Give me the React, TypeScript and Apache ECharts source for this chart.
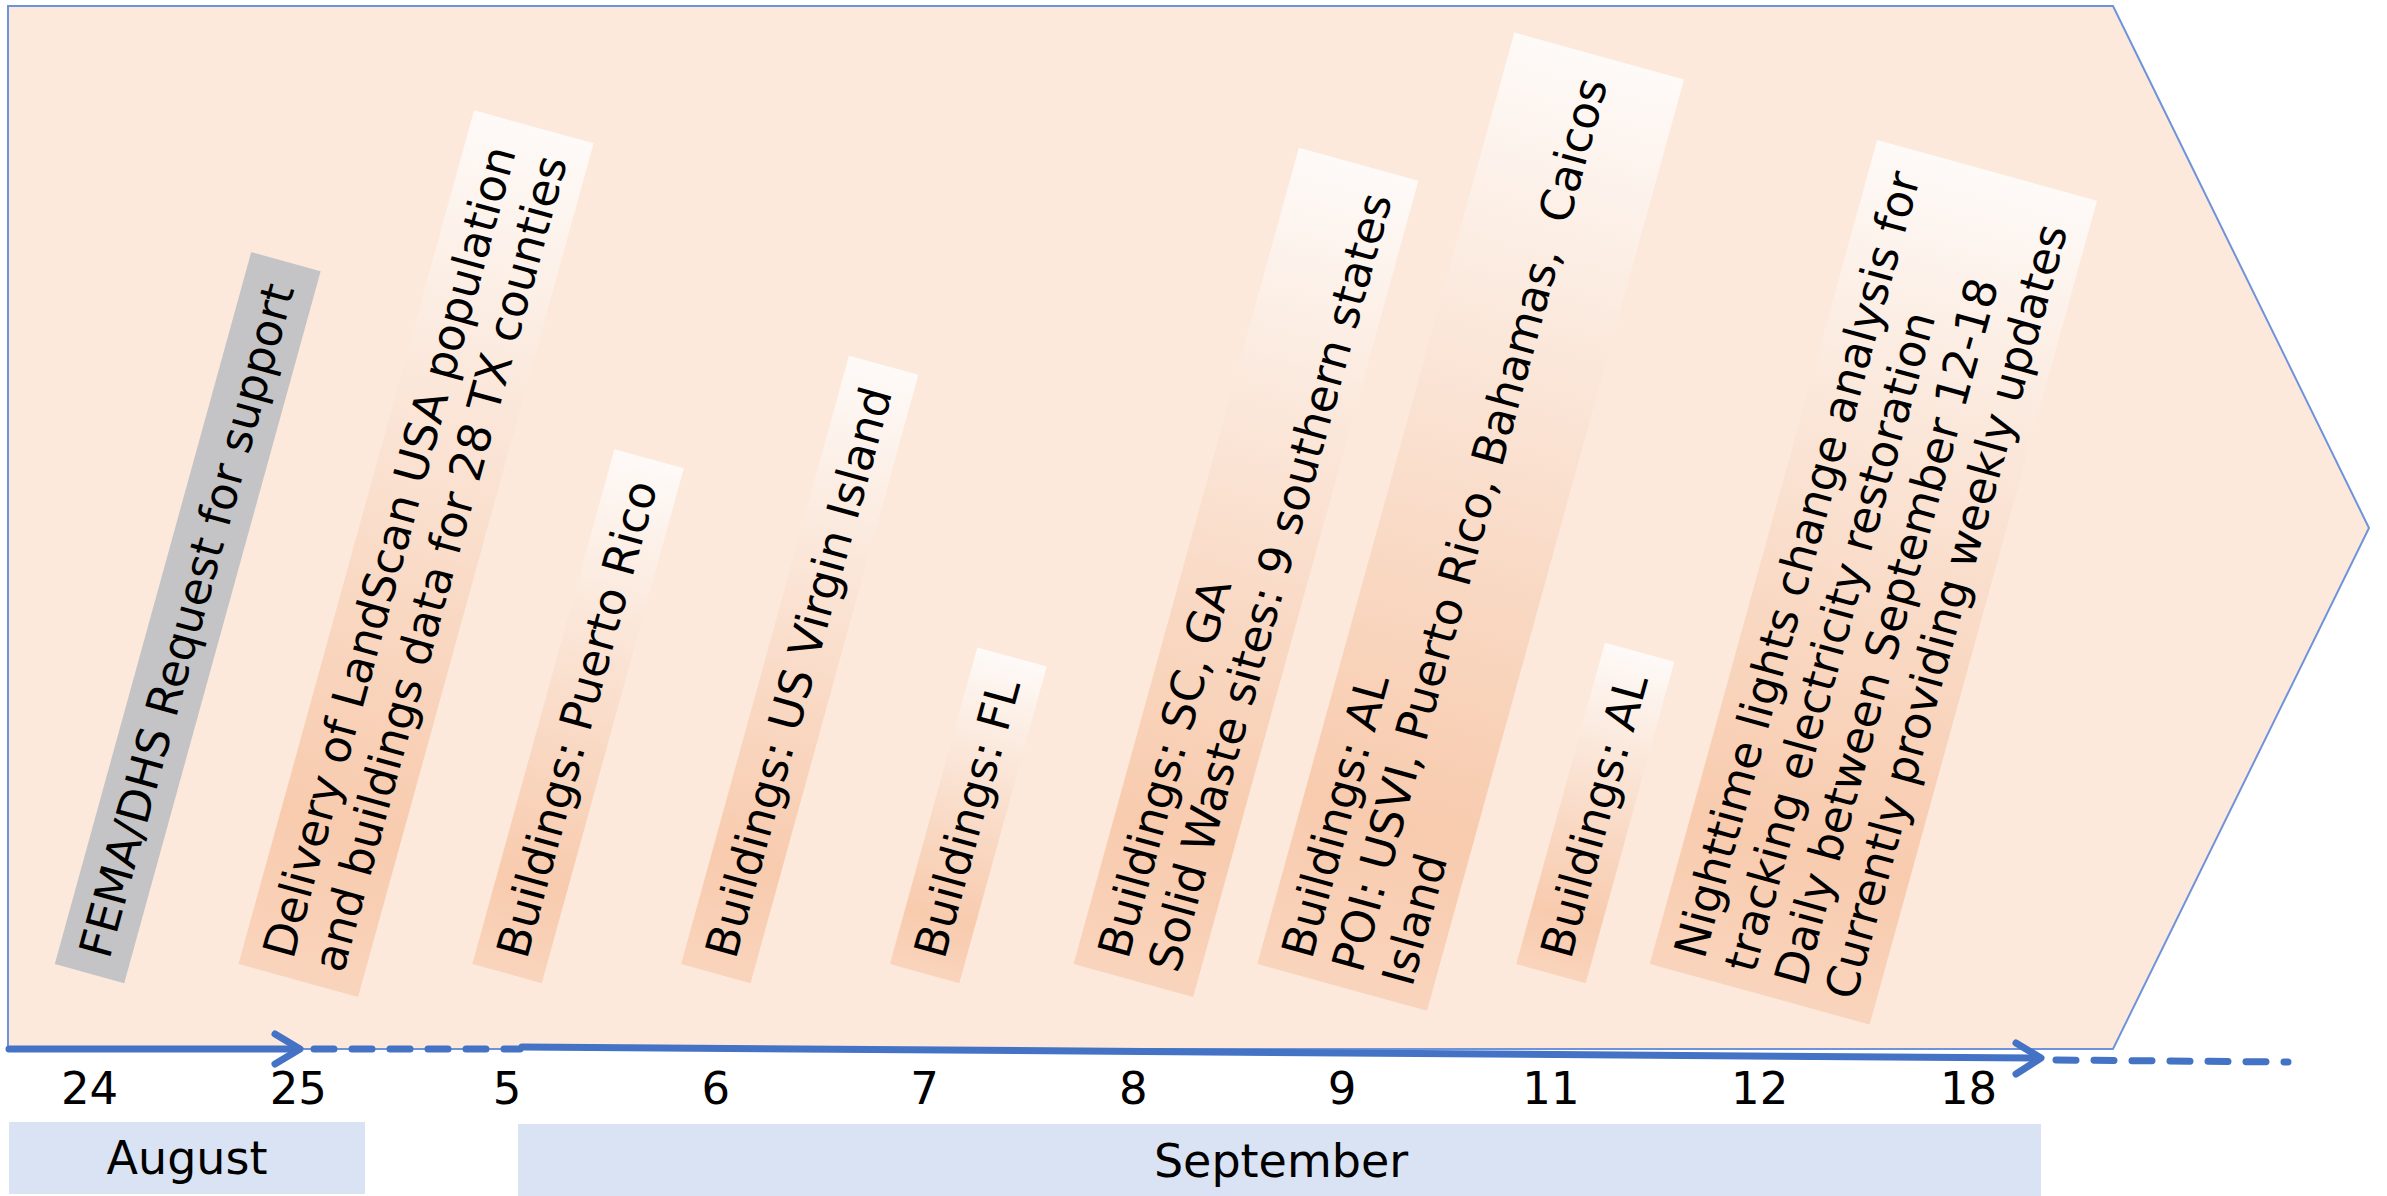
import React, { useEffect, useRef } from 'react';
import * as echarts from 'echarts';

// Timeline days shown along the axis (August 24–25, then September)
const dayLabels = ['24', '25', '5', '6', '7', '8', '9', '11', '12', '18'];
const monthNames = ['August', 'September'];

// Milestones: the day each one happened, its kind and its caption
const eventDays = ['24', '25', '5', '6', '7', '8', '9', '11', '12'];
const eventKinds = [
  'request',
  'delivery',
  'delivery',
  'delivery',
  'delivery',
  'delivery',
  'delivery',
  'delivery',
  'delivery',
];
const eventTexts = [
  'FEMA/DHS Request for support',
  'Delivery of LandScan USA population\nand buildings data for 28 TX counties',
  'Buildings: Puerto Rico',
  'Buildings: US Virgin Island',
  'Buildings: FL',
  'Buildings: SC, GA\nSolid Waste sites: 9 southern states',
  'Buildings: AL\nPOI: USVI, Puerto Rico, Bahamas,  Caicos\nIsland',
  'Buildings: AL',
  'Nighttime lights change analysis for\ntracking electricity restoration\nDaily between September 12-18\nCurrently providing weekly updates',
];

const FONT = '"DejaVu Sans", "Noto Sans", sans-serif';
const BOX_FONT_SIZE = 45;
const LINE_H = 52;
const TILT = (15.4 * Math.PI) / 180;
const BLUE = '#4472C4';

let measureCtx: CanvasRenderingContext2D | null = null;
function textWidth(s: string): number {
  if (!measureCtx) {
    measureCtx = document.createElement('canvas').getContext('2d');
  }
  if (!measureCtx) return s.length * BOX_FONT_SIZE * 0.6;
  measureCtx.font = `${BOX_FONT_SIZE}px ${FONT}`;
  return measureCtx.measureText(s).width;
}

function buildOption(): echarts.EChartsOption {
  const boxGradient = new echarts.graphic.LinearGradient(0, 0, 0, 1, [
    { offset: 0, color: '#FEFAF8' },
    { offset: 0.18, color: '#FCEFE6' },
    { offset: 0.55, color: '#F9D9C4' },
    { offset: 0.82, color: '#F8CBAE' },
    { offset: 1, color: '#F9D4BC' },
  ]);

  const lineStyle = { stroke: BLUE, lineWidth: 7, lineCap: 'round' as const };
  const dashStyle = { ...lineStyle, lineDash: [20, 18] };

  return {
    animation: false,
    backgroundColor: '#ffffff',
    grid: { left: 89.5, right: 418.5, top: 0, bottom: 146 },
    xAxis: {
      type: 'category',
      data: dayLabels,
      boundaryGap: false,
      axisLine: { show: false },
      axisTick: { show: false },
      splitLine: { show: false },
      axisLabel: {
        color: '#000',
        fontSize: 45,
        fontFamily: FONT,
        margin: 16,
        interval: 0,
      },
    },
    yAxis: { type: 'value', min: 0, max: 1, show: false },
    graphic: [
      {
        type: 'polygon',
        z: 0,
        shape: {
          points: [
            [8, 6],
            [2113, 6],
            [2369, 528],
            [2113, 1049],
            [8, 1049],
          ],
        },
        style: { fill: '#FCE9DB', stroke: '#6F93DA', lineWidth: 2 },
      },
      // month bands
      {
        type: 'rect',
        z: 0,
        shape: { x: 9, y: 1122, width: 356, height: 72 },
        style: { fill: '#DAE3F3' },
      },
      {
        type: 'rect',
        z: 0,
        shape: { x: 518, y: 1124, width: 1523, height: 72 },
        style: { fill: '#DAE3F3' },
      },
      {
        type: 'text',
        z: 1,
        x: 187,
        y: 1158,
        style: {
          text: monthNames[0],
          fill: '#000',
          font: `46px ${FONT}`,
          align: 'center',
          verticalAlign: 'middle',
        },
      },
      {
        type: 'text',
        z: 1,
        x: 1281,
        y: 1161,
        style: {
          text: monthNames[1],
          fill: '#000',
          font: `46px ${FONT}`,
          align: 'center',
          verticalAlign: 'middle',
        },
      },
      // timeline: solid run, arrow, dashed gap, solid run, arrow, dashed continuation
      {
        type: 'line',
        z: 10,
        shape: { x1: 9, y1: 1049, x2: 296, y2: 1049 },
        style: lineStyle,
      },
      {
        type: 'polyline',
        z: 10,
        shape: {
          points: [
            [275, 1034],
            [300, 1049],
            [275, 1064],
          ],
        },
        style: { ...lineStyle, fill: null, lineJoin: 'round' },
      },
      {
        type: 'line',
        z: 10,
        shape: { x1: 314, y1: 1049, x2: 520, y2: 1049 },
        style: dashStyle,
      },
      {
        type: 'line',
        z: 10,
        shape: { x1: 522, y1: 1047, x2: 2036, y2: 1058 },
        style: lineStyle,
      },
      {
        type: 'polyline',
        z: 10,
        shape: {
          points: [
            [2016, 1043],
            [2041, 1058],
            [2016, 1074],
          ],
        },
        style: { ...lineStyle, fill: null, lineJoin: 'round' },
      },
      {
        type: 'line',
        z: 10,
        shape: { x1: 2056, y1: 1060, x2: 2288, y2: 1062 },
        style: dashStyle,
      },
    ],
    series: [
      {
        type: 'custom',
        z: 3,
        data: eventDays.map((d) => [dayLabels.indexOf(d), 0]),
        renderItem: (params: any, api: any) => {
          const idx = params.dataIndex;
          const pt = api.coord([api.value(0), 0]);
          const lines = eventTexts[idx].split('\n');
          const w = lines.length * LINE_H + 20;
          const len = Math.max(...lines.map(textWidth)) + 42;
          const isRequest = eventKinds[idx] === 'request';
          return {
            type: 'group',
            x: pt[0],
            y: pt[1] - 86 + (w / 2) * Math.sin(TILT),
            rotation: -TILT,
            children: [
              {
                type: 'rect',
                shape: { x: -w / 2, y: -len, width: w, height: len },
                style: { fill: isRequest ? '#C4C4C6' : boxGradient },
              },
              {
                type: 'text',
                x: 0,
                y: -18,
                rotation: Math.PI / 2,
                style: {
                  text: lines.join('\n'),
                  fill: '#000',
                  font: `${BOX_FONT_SIZE}px ${FONT}`,
                  align: 'left',
                  verticalAlign: 'middle',
                  lineHeight: LINE_H,
                },
              },
            ],
          };
        },
      },
    ],
  };
}

export default function App() {
  const ref = useRef<HTMLDivElement>(null);

  useEffect(() => {
    document.body.style.margin = '0';
    if (!ref.current) return;
    const chart = echarts.init(ref.current, undefined, { renderer: 'svg' });
    chart.setOption(buildOption());
    return () => chart.dispose();
  }, []);

  return (
    <div
      ref={ref}
      style={{ position: 'fixed', left: 0, top: 0, width: 2387, height: 1196 }}
    />
  );
}
